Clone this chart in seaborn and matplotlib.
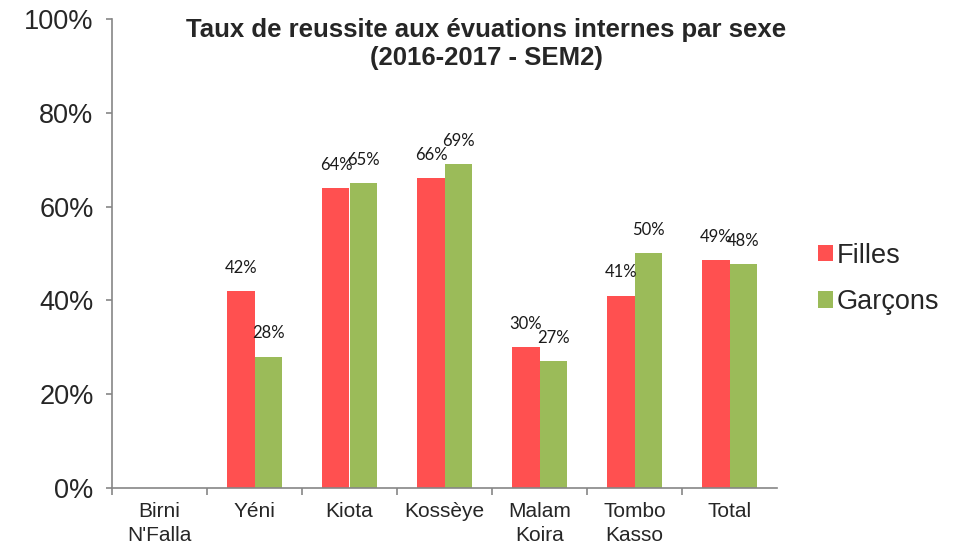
import matplotlib
matplotlib.use("Agg")
import matplotlib.pyplot as plt
import seaborn as sns
import pandas as pd
from matplotlib.ticker import FixedLocator, FuncFormatter
from matplotlib.patches import Patch

categories = ["Birni\nN'Falla", "Yéni", "Kiota", "Kossèye", "Malam\nKoira", "Tombo\nKasso", "Total"]
filles = [0, 42, 64, 66, 30, 41, 48.6]
garcons = [0, 28, 65, 69, 27, 50, 47.8]
filles_labels = [None, "42%", "64%", "66%", "30%", "41%", "49%"]
garcons_labels = [None, "28%", "65%", "69%", "27%", "50%", "48%"]
series = ["Filles", "Garçons"]
colors = ["#FF5050", "#9BBB59"]
yticks = [0, 20, 40, 60, 80, 100]

rows = []
for c, f, g in zip(categories, filles, garcons):
    rows.append({"cat": c, "Sexe": series[0], "val": f})
    rows.append({"cat": c, "Sexe": series[1], "val": g})
df = pd.DataFrame(rows)

sns.set_style("white")
plt.rcParams["font.family"] = ["Liberation Sans", "DejaVu Sans"]

fig = plt.figure(figsize=(9.64, 5.5), dpi=100)
ax = fig.add_axes([112/964, 62/550, (777-112)/964, (488-19)/550])

sns.barplot(data=df, x="cat", y="val", hue="Sexe", order=categories, hue_order=series,
            palette=colors, width=0.57, gap=0, saturation=1, ax=ax, legend=False,
            edgecolor="none", linewidth=0)

# data labels
for container, labels in zip(ax.containers, [filles_labels, garcons_labels]):
    for bar, lab in zip(container, labels):
        if lab is None:
            continue
        ax.annotate(lab, (bar.get_x() + bar.get_width()/2, bar.get_height()),
                    xytext=(0, 11), textcoords="offset points", ha="center", va="bottom",
                    fontsize=12, family=["Lato", "DejaVu Sans"], color="#1a1a1a")

ax.set_xlim(-0.5, len(categories) - 0.5)
ax.set_ylim(0, 100)
ax.set_yticks(yticks)
ax.yaxis.set_major_formatter(FuncFormatter(lambda v, p: f"{int(v)}%"))
ax.set_xlabel("")
ax.set_ylabel("")
ax.tick_params(axis="y", labelsize=19.5, length=4.3, width=1.2, direction="out", color="#868686", pad=9, left=True)
ax.tick_params(axis="x", which="major", labelsize=15, length=0, pad=10)
ax.xaxis.set_minor_locator(FixedLocator([i - 0.5 for i in range(len(categories))]))
ax.tick_params(axis="x", which="minor", length=5, width=1.2, direction="out", color="#868686", bottom=True)
for s in ["top", "right"]:
    ax.spines[s].set_visible(False)
for s in ["left", "bottom"]:
    ax.spines[s].set_color("#868686")
    ax.spines[s].set_linewidth(1.2)
for t in ax.get_xticklabels():
    t.set_linespacing(1.35)

fig.text(486/964, 1 - 44/550, "Taux de reussite aux évuations internes par sexe\n(2016-2017 - SEM2)",
         ha="center", va="center", fontsize=18.5, fontweight="bold", linespacing=1.17)

handles = [Patch(facecolor=c, edgecolor="none") for c in colors]
fig.legend(handles, series, loc="center left", bbox_to_anchor=(818/964, 1 - 279/550),
           frameon=False, fontsize=19.5, handlelength=0.55, handleheight=0.55,
           handletextpad=0.15, labelspacing=0.75, borderaxespad=0, borderpad=0)

fig.savefig("out.png", dpi=100)
